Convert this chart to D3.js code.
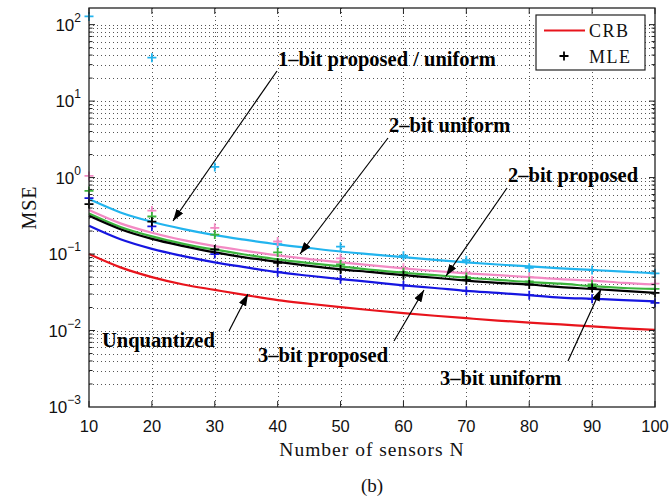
<!DOCTYPE html>
<html><head><meta charset="utf-8">
<script src="https://cdn.jsdelivr.net/npm/d3@7"></script>
<style>body{margin:0;background:#fff}</style>
</head><body>
<svg id="chart" width="670" height="498"></svg>
<script>
// Number of sensors at which the analytic curves are evaluated
const sensorsFine = [10,15,20,25,30,35,40,45,50,55,60,65,70,75,80,85,90,95,100];
// Analytic MSE curves
const crbCurve        = [0.100,0.067,0.050,0.040,0.034,0.029,0.025,0.0224,0.0202,0.0184,0.0169,0.0156,0.0145,0.0135,0.0127,0.0120,0.0113,0.0107,0.0102];
const oneBitCurve     = [0.523,0.350,0.264,0.212,0.177,0.153,0.134,0.120,0.108,0.099,0.091,0.084,0.078,0.073,0.069,0.065,0.062,0.059,0.056];
const twoBitUniCurve  = [0.376,0.252,0.190,0.152,0.127,0.110,0.096,0.086,0.078,0.071,0.065,0.060,0.056,0.053,0.050,0.047,0.045,0.042,0.040];
const twoBitPropCurve = [0.339,0.226,0.170,0.136,0.114,0.098,0.085,0.076,0.069,0.062,0.057,0.053,0.049,0.046,0.043,0.041,0.038,0.036,0.035];
const threeBitUniCurve  = [0.316,0.211,0.158,0.127,0.105,0.090,0.079,0.070,0.063,0.058,0.053,0.049,0.045,0.042,0.040,0.037,0.035,0.033,0.031];
const threeBitPropCurve = [0.234,0.156,0.117,0.094,0.078,0.067,0.058,0.052,0.047,0.043,0.039,0.036,0.033,0.031,0.029,0.027,0.026,0.025,0.024];

// Simulated MLE results
const sensorsMle = [10,20,30,40,50,60,70,80,90,100];
const oneBitMle       = [128,37,1.38,0.135,0.125,0.095,0.083,0.066,0.062,0.056];
const twoBitUniMle    = [1.05,0.37,0.22,0.146,0.088,0.066,0.057,0.050,0.045,0.041];
const twoBitPropMle   = [0.67,0.31,0.18,0.105,0.073,0.058,0.050,0.044,0.040,0.035];
const threeBitUniMle  = [0.45,0.265,0.115,0.077,0.063,0.053,0.046,0.040,0.036,0.031];
const threeBitPropMle = [0.54,0.23,0.10,0.058,0.047,0.039,0.033,0.029,0.026,0.023];

const xTicks = [10,20,30,40,50,60,70,80,90,100];
const yDecades = [-3,-2,-1,0,1,2];
const yDomain = [1e-3, 165];

const colors = {crb:"#e8141c", one:"#22b4ee", twoU:"#f38ac4", twoP:"#3cb43c", threeU:"#000000", threeP:"#1616e0"};

const svg = d3.select("#chart");
const L = 89, R = 655, T = 8, B = 407;
const x = d3.scaleLinear().domain([10,100]).range([L,R]);
const y = d3.scaleLog().domain(yDomain).range([B,T]);

// grid values: every 1..9 step of each decade
const minorVals = [];
yDecades.forEach(d => { for (let k = 1; k <= 9; k++) { const v = k*Math.pow(10,d); if (v > yDomain[0] && v < yDomain[1]) minorVals.push(v); } });

const grid = svg.append("g").attr("stroke","#555").attr("stroke-width",1).attr("stroke-dasharray","1,3");
grid.selectAll("line.h").data(minorVals).join("line")
  .attr("x1",L).attr("x2",R).attr("y1",d=>Math.round(y(d))+0.5).attr("y2",d=>Math.round(y(d))+0.5);
grid.selectAll("line.v").data(xTicks.slice(1,-1)).join("line")
  .attr("x1",d=>Math.round(x(d))+0.5).attr("x2",d=>Math.round(x(d))+0.5).attr("y1",T).attr("y2",B);

// curves
const line = d3.line().x(d=>x(d[0])).y(d=>y(d[1])).curve(d3.curveMonotoneX);
const curves = [
  [crbCurve, colors.crb], [oneBitCurve, colors.one], [twoBitUniCurve, colors.twoU],
  [twoBitPropCurve, colors.twoP], [threeBitUniCurve, colors.threeU], [threeBitPropCurve, colors.threeP]
];
const plot = svg.append("g");
curves.forEach(([vals,c]) => {
  plot.append("path").datum(sensorsFine.map((n,i)=>[n,vals[i]]))
    .attr("d",line).attr("fill","none").attr("stroke",c).attr("stroke-width",2.2);
});

// MLE markers
const mles = [
  [oneBitMle, colors.one], [twoBitUniMle, colors.twoU], [twoBitPropMle, colors.twoP],
  [threeBitPropMle, colors.threeP], [threeBitUniMle, colors.threeU]
];
const plus = "M-4.5,0H4.5M0,-4.5V4.5";
mles.forEach(([vals,c]) => {
  plot.selectAll(null).data(sensorsMle.map((n,i)=>[n,vals[i]])).join("path")
    .attr("transform",d=>`translate(${x(d[0])},${y(d[1])})`)
    .attr("d",plus).attr("stroke",c).attr("stroke-width",1.8).attr("fill","none");
});

// frame and ticks
const axis = svg.append("g").attr("stroke","#222").attr("fill","none");
axis.append("rect").attr("x",L).attr("y",T).attr("width",R-L).attr("height",B-T).attr("stroke-width",1.3);
xTicks.forEach(t => {
  const px = x(t);
  axis.append("line").attr("x1",px).attr("x2",px).attr("y1",B).attr("y2",B-6);
  axis.append("line").attr("x1",px).attr("x2",px).attr("y1",T).attr("y2",T+6);
});
minorVals.forEach(v => {
  const py = y(v);
  const major = Math.abs(Math.log10(v) - Math.round(Math.log10(v))) < 1e-9;
  const len = major ? 6 : 3.5;
  axis.append("line").attr("x1",L).attr("x2",L+len).attr("y1",py).attr("y2",py);
  axis.append("line").attr("x1",R).attr("x2",R-len).attr("y1",py).attr("y2",py);
});

// tick labels
const tickFont = "'Liberation Sans', Arial, Helvetica, sans-serif";
svg.append("g").selectAll("text").data(xTicks).join("text")
  .attr("x",d=>x(d)).attr("y",B+25).attr("text-anchor","middle")
  .attr("font-family",tickFont).attr("font-size",16.5).attr("fill","#111").text(d=>d);
const yl = svg.append("g").attr("font-family",tickFont).attr("fill","#111");
yDecades.forEach(d => {
  const t = yl.append("text").attr("x",L-8).attr("y",y(Math.pow(10,d))+6).attr("text-anchor","end").attr("font-size",17);
  t.append("tspan").text("10");
  t.append("tspan").attr("dy",-9).attr("font-size",12).text(d < 0 ? "\u2212" + (-d) : d);
});

// axis titles
const serif = "'Liberation Serif', 'Times New Roman', serif";
svg.append("text").attr("x",(L+R)/2).attr("y",456).attr("text-anchor","middle")
  .attr("font-family",serif).attr("font-size",19.5).attr("letter-spacing",1).attr("fill","#111").text("Number of sensors N");
svg.append("text").attr("transform",`translate(36,${(T+B)/2}) rotate(-90)`).attr("text-anchor","middle")
  .attr("font-family",serif).attr("font-size",20).attr("letter-spacing",1).attr("fill","#111").text("MSE");
svg.append("text").attr("x",(L+R)/2).attr("y",492).attr("text-anchor","middle")
  .attr("font-family",serif).attr("font-size",19).attr("fill","#111").text("(b)");

// annotations: [label, text x, text baseline, arrow start, arrow tip]
const notes = [
  ["1\u2013bit proposed / uniform", 278, 66, [277,71], [173,221]],
  ["2\u2013bit uniform", 389, 132, [388,138], [300,254]],
  ["2\u2013bit proposed", 508, 182, [507,188], [446,276]],
  ["Unquantized", 102, 347, [229,331], [248,294]],
  ["3\u2013bit proposed", 258, 362, [394,341], [424,290]],
  ["3\u2013bit uniform", 440, 385, [568,361], [601,289]]
];
svg.append("defs").append("marker").attr("id","head").attr("viewBox","0 0 12 8")
  .attr("refX",12).attr("refY",4).attr("markerWidth",12).attr("markerHeight",8)
  .attr("markerUnits","userSpaceOnUse").attr("orient","auto")
  .append("path").attr("d","M0,0L12,4L0,8Z").attr("fill","#000");
const ann = svg.append("g");
notes.forEach(([label,tx,ty,a,b]) => {
  ann.append("line").attr("x1",a[0]).attr("y1",a[1]).attr("x2",b[0]).attr("y2",b[1])
    .attr("stroke","#000").attr("stroke-width",1.2).attr("marker-end","url(#head)");
  ann.append("text").attr("x",tx).attr("y",ty).attr("font-family",serif).attr("font-weight","bold")
    .attr("font-size",20.5).attr("fill","#000").text(label);
});

// legend
const lg = svg.append("g");
lg.append("rect").attr("x",536).attr("y",15).attr("width",109).attr("height",55)
  .attr("fill","#fff").attr("stroke","#222").attr("stroke-width",1.2);
lg.append("line").attr("x1",544).attr("x2",585).attr("y1",30.5).attr("y2",30.5).attr("stroke",colors.crb).attr("stroke-width",2);
lg.append("path").attr("transform","translate(564,56)").attr("d",plus).attr("stroke","#000").attr("stroke-width",1.8);
lg.append("text").attr("x",589).attr("y",37).attr("font-family",serif).attr("font-size",18).attr("letter-spacing",1.5).attr("fill","#111").text("CRB");
lg.append("text").attr("x",589).attr("y",63).attr("font-family",serif).attr("font-size",18).attr("letter-spacing",1.5).attr("fill","#111").text("MLE");
</script>
</body></html>
